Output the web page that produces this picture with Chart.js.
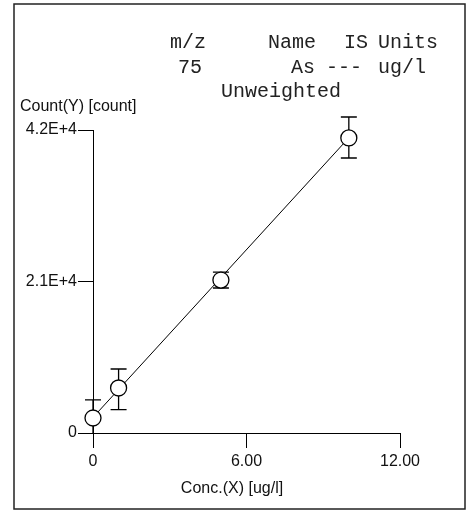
<!DOCTYPE html>
<html>
<head>
<meta charset="utf-8">
<script src="https://cdn.jsdelivr.net/npm/chart.js@4/dist/chart.umd.min.js"></script>
<style>
  html, body { margin: 0; padding: 0; background: #fff; }
  #wrap { width: 472px; height: 511px; position: relative; }
</style>
</head>
<body>
<div id="wrap"><canvas id="c" width="472" height="511"></canvas></div>
<script>
// ---- data ----
const concX = [0, 1, 5, 10];
const countY = [2080, 6240, 21200, 40900];
const errHigh = [4580, 8870, 22300, 43800];
const errLow = [0, 3250, 20100, 38120];
const fitX = [0, 10];
const fitY = [2160, 40920];
const xTicks = [0, 6, 12];
const xTickLabels = ['0', '6.00', '12.00'];
const yTicks = [0, 21000, 42000];
const yTickLabels = ['0', '2.1E+4', '4.2E+4'];
const headerRow1 = ['m/z', 'Name', 'IS', 'Units'];
const headerRow2 = ['75', 'As', '---', 'ug/l'];
const headerRow3 = ['Unweighted'];
const yTitle = 'Count(Y) [count]';
const xTitle = 'Conc.(X) [ug/l]';

const pts = concX.map((x, i) => ({ x: x, y: countY[i] }));
const fitPts = fitX.map((x, i) => ({ x: x, y: fitY[i] }));

const errorBars = {
  id: 'errorBars',
  beforeDatasetsDraw(chart) {
    const ctx = chart.ctx, xs = chart.scales.x, ys = chart.scales.y;
    ctx.save();
    ctx.strokeStyle = '#000';
    ctx.lineWidth = 1.3;
    concX.forEach((x, i) => {
      const px = xs.getPixelForValue(x);
      const hi = ys.getPixelForValue(errHigh[i]);
      const lo = ys.getPixelForValue(errLow[i]);
      ctx.beginPath();
      ctx.moveTo(px, hi); ctx.lineTo(px, lo);
      ctx.moveTo(px - 8, hi); ctx.lineTo(px + 8, hi);
      if (errLow[i] > 0) { ctx.moveTo(px - 8, lo); ctx.lineTo(px + 8, lo); }
      ctx.stroke();
    });
    ctx.restore();
  }
};

const texts = {
  id: 'texts',
  afterDraw(chart) {
    const ctx = chart.ctx;
    ctx.save();
    // frame
    ctx.strokeStyle = '#222';
    ctx.lineWidth = 1.5;
    ctx.strokeRect(14, 4, 451, 505);
    ctx.fillStyle = '#222';
    ctx.textBaseline = 'middle';
    ctx.textAlign = 'left';
    ctx.font = '20px "Liberation Mono", "DejaVu Sans Mono", monospace';
    const r1x = [170, 268, 344, 378];
    headerRow1.forEach((t, i) => ctx.fillText(t, r1x[i], 43));
    const r2x = [178, 291, 326, 378];
    headerRow2.forEach((t, i) => ctx.fillText(t, r2x[i], 68));
    ctx.fillText(headerRow3[0], 221, 92);
    ctx.fillStyle = '#111';
    ctx.font = '16px "Liberation Sans", Arial, sans-serif';
    ctx.fillText(yTitle, 20, 107);
    ctx.textAlign = 'center';
    ctx.fillText(xTitle, 232, 489);
    ctx.restore();
  }
};

new Chart(document.getElementById('c'), {
  type: 'scatter',
  data: {
    datasets: [
      {
        data: pts,
        clip: false,
        pointStyle: 'circle',
        pointRadius: 8,
        pointBackgroundColor: '#fff',
        pointBorderColor: '#000',
        pointBorderWidth: 1.3,
        showLine: false
      },
      {
        data: fitPts,
        clip: false,
        showLine: true,
        borderColor: '#000',
        borderWidth: 1,
        pointRadius: 0,
        fill: false
      }
    ]
  },
  options: {
    responsive: false,
    animation: false,
    layout: { padding: { left: 0, right: 72, top: 130, bottom: 0 } },
    plugins: { legend: { display: false }, tooltip: { enabled: false }, title: { display: false } },
    scales: {
      x: {
        type: 'linear', min: 0, max: 12,
        afterBuildTicks: s => { s.ticks = xTicks.map(v => ({ value: v })); },
        afterFit: s => { s.height = 78; },
        grid: { drawOnChartArea: false, drawTicks: true, tickLength: 15, color: '#000', lineWidth: 1 },
        border: { display: true, color: '#000', width: 1 },
        ticks: {
          color: '#111', padding: 4, maxRotation: 0, autoSkip: false,
          font: { family: '"Liberation Sans", Arial, sans-serif', size: 16 },
          callback: (v) => { const i = xTicks.indexOf(v); return i >= 0 ? xTickLabels[i] : ''; }
        }
      },
      y: {
        type: 'linear', min: 0, max: 42000,
        afterBuildTicks: s => { s.ticks = yTicks.map(v => ({ value: v })); },
        afterFit: s => { s.width = 93; },
        grid: { drawOnChartArea: false, drawTicks: true, tickLength: 15, color: '#000', lineWidth: 1 },
        border: { display: true, color: '#000', width: 1 },
        ticks: {
          color: '#111', padding: 1, autoSkip: false,
          font: { family: '"Liberation Sans", Arial, sans-serif', size: 16 },
          callback: (v) => { const i = yTicks.indexOf(v); return i >= 0 ? yTickLabels[i] : ''; }
        }
      }
    }
  },
  plugins: [errorBars, texts]
});
</script>
</body>
</html>
